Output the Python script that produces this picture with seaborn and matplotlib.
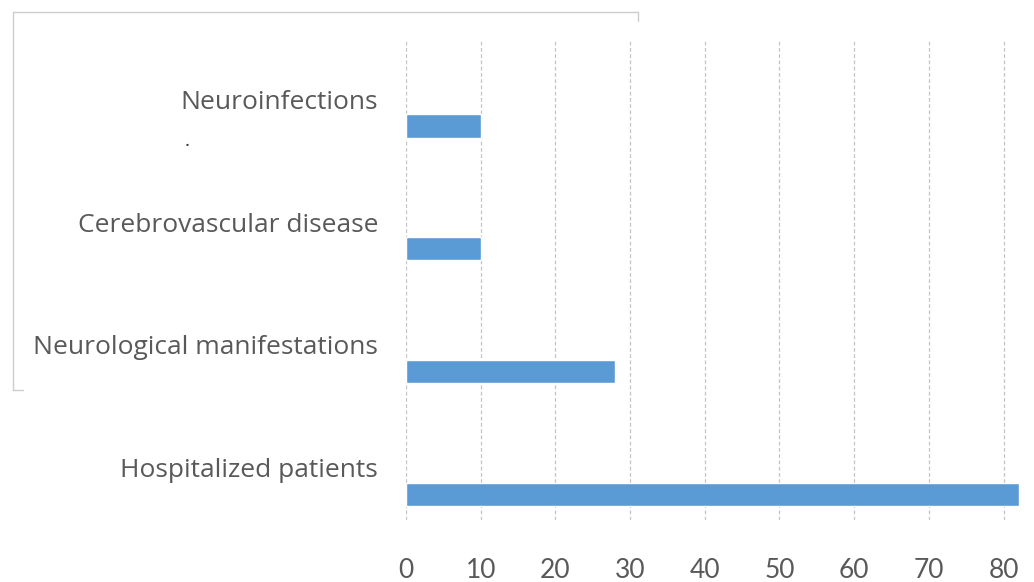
import matplotlib
matplotlib.use("Agg")
import matplotlib.pyplot as plt
from matplotlib.transforms import ScaledTranslation
from matplotlib.lines import Line2D
import seaborn as sns
import pandas as pd

categories = ["Neuroinfections", "Cerebrovascular disease",
              "Neurological manifestations", "Hospitalized patients"]
counts = [10, 10, 28, 82]
x_ticks = [0, 10, 20, 30, 40, 50, 60, 70, 80]

sns.set_theme(style="white")
plt.rcParams["font.family"] = ["Open Sans", "DejaVu Sans"]

df = pd.DataFrame({"category": categories, "count": counts})

fig = plt.figure(figsize=(10.34, 5.82), dpi=100)
ax = fig.add_axes([406 / 1034, 1 - 520 / 582, (1018.5 - 406) / 1034, 480 / 582])

sns.barplot(data=df, y="category", x="count", orient="h", color="#5b9bd5",
            saturation=1, width=0.19, ax=ax)

ax.set_xlim(0, 82)
ax.set_ylim(3.21, -0.70)
ax.set_xticks(x_ticks)
ax.set_xlabel("")
ax.set_ylabel("")
for s in ax.spines.values():
    s.set_visible(False)
ax.xaxis.grid(True, color="#c4c4c4", linestyle=(0, (3, 2)), linewidth=0.9)
ax.yaxis.grid(False)
ax.set_axisbelow(True)

ax.tick_params(axis="y", length=0, pad=20, labelsize=19, labelcolor="#595959")
ax.tick_params(axis="x", length=0, pad=27, labelsize=18, labelcolor="#595959")
for lab in ax.get_xticklabels():
    lab.set_fontfamily(["Lato", "DejaVu Sans"])
    lab.set_fontsize(19)

# category names sit above their bars
shift = ScaledTranslation(0, 26.5 / 100, fig.dpi_scale_trans)
for lab in ax.get_yticklabels():
    lab.set_transform(lab.get_transform() + shift)

# light frame around the label area
frame_kw = dict(color="#cccccc", linewidth=1.0, transform=fig.transFigure)
fig.add_artist(Line2D([13 / 1034, 638 / 1034], [1 - 12 / 582, 1 - 12 / 582], **frame_kw))
fig.add_artist(Line2D([13 / 1034, 13 / 1034], [1 - 12 / 582, 1 - 390 / 582], **frame_kw))
fig.add_artist(Line2D([13 / 1034, 23 / 1034], [1 - 390 / 582, 1 - 390 / 582], **frame_kw))
fig.add_artist(Line2D([638 / 1034, 638 / 1034], [1 - 12 / 582, 1 - 21 / 582], **frame_kw))

fig.text(187 / 1034, 1 - 146 / 582, ".", fontsize=14, color="#333333",
         ha="center", va="baseline")

fig.savefig("out.png", dpi=100)
